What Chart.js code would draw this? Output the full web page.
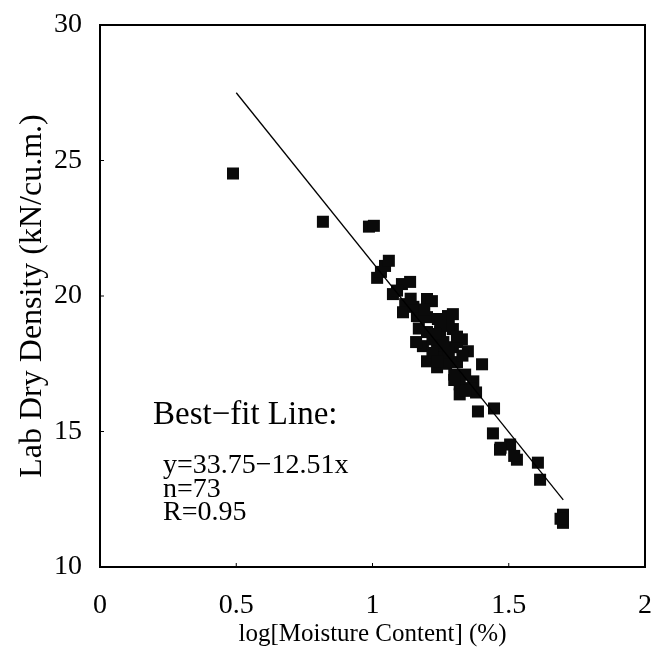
<!DOCTYPE html>
<html>
<head>
<meta charset="utf-8">
<script src="https://cdn.jsdelivr.net/npm/chart.js@4/dist/chart.umd.min.js"></script>
<style>
  html, body { margin: 0; padding: 0; background: #fff; }
  #wrap { width: 656px; height: 649px; position: relative; }
</style>
</head>
<body>
<div id="wrap"><canvas id="densityChart"></canvas></div>
<script>
// log moisture content vs lab dry density
var logMoisture = [
  0.488, 0.818, 0.987, 1.005, 1.017, 1.031, 1.046, 1.060, 1.075, 1.108,
  1.138, 1.120, 1.112, 1.200, 1.218, 1.163, 1.200, 1.240, 1.277, 1.295,
  1.200, 1.248, 1.295, 1.328, 1.185, 1.237, 1.295, 1.350, 1.200, 1.259,
  1.310, 1.402, 1.237, 1.320, 1.370, 1.320, 1.380, 1.387, 1.446, 1.442,
  1.468, 1.505, 1.530, 1.607, 1.615, 1.699, 1.699, 1.690, 1.090, 1.150,
  1.170, 1.220, 1.260, 1.280, 1.310, 1.330, 1.270, 1.220, 1.300, 1.340,
  1.360, 1.340, 1.250, 1.190, 1.140, 1.280, 1.300, 1.230, 1.520, 1.470,
  1.240, 1.160, 1.310
];
var dryDensity = [
  24.52, 22.74, 22.56, 22.59, 20.67, 20.89, 21.11, 21.30, 20.07, 20.44,
  20.52, 19.70, 19.40, 19.89, 19.81, 19.26, 19.22, 19.15, 19.26, 19.33,
  18.67, 18.70, 18.78, 18.40, 18.15, 18.04, 18.11, 17.96, 17.59, 17.74,
  17.56, 17.48, 17.37, 16.74, 16.85, 16.37, 16.44, 15.74, 15.85, 14.93,
  14.33, 14.52, 13.96, 13.85, 13.22, 11.93, 11.63, 11.78, 20.20, 19.60,
  18.80, 18.40, 18.30, 18.90, 18.30, 17.80, 17.50, 17.90, 17.10, 17.10,
  16.60, 16.50, 18.90, 19.50, 19.90, 17.90, 16.90, 18.60, 14.10, 14.40,
  17.60, 18.30, 18.50
];

// best-fit line y = 33.75 - 12.51x, end points
var fitX = [0.5, 1.7];
var fitY = [27.50, 12.48];

var xTicks = [0, 0.5, 1, 1.5, 2];
var yTicks = [10, 15, 20, 25, 30];

var noteLines = ['y=33.75\u221212.51x', 'n=73', 'R=0.95'];

var serif = '"Liberation Serif", "Times New Roman", serif';

var frameAndNotes = {
  id: 'frameAndNotes',
  afterDraw: function(chart) {
    var ctx = chart.ctx;
    var a = chart.chartArea;
    var xs = chart.scales.x, ys = chart.scales.y;
    ctx.save();
    ctx.strokeStyle = '#000';
    ctx.lineWidth = 2;
    ctx.strokeRect(a.left, a.top, a.right - a.left, a.bottom - a.top);
    // small inward ticks
    ctx.lineWidth = 1;
    ctx.beginPath();
    xTicks.forEach(function(v) {
      var px = xs.getPixelForValue(v);
      ctx.moveTo(px, a.bottom);
      ctx.lineTo(px, a.bottom - 4);
    });
    yTicks.forEach(function(v) {
      var py = ys.getPixelForValue(v);
      ctx.moveTo(a.left, py);
      ctx.lineTo(a.left + 4, py);
    });
    ctx.stroke();

    ctx.fillStyle = '#000';
    ctx.textBaseline = 'middle';
    ctx.textAlign = 'left';
    ctx.font = '33px ' + serif;
    ctx.fillText('Best\u2212fit Line:', 153, 415);
    ctx.font = '28px ' + serif;
    noteLines.forEach(function(t, i) {
      ctx.fillText(t, 163, 466 + i * 23.5);
    });
    ctx.restore();
  }
};

var points = logMoisture.map(function(x, i) { return { x: x, y: dryDensity[i] }; });
var fitLine = fitX.map(function(x, i) { return { x: x, y: fitY[i] }; });

new Chart(document.getElementById('densityChart').getContext('2d'), {
  type: 'scatter',
  data: {
    datasets: [
      {
        type: 'line',
        label: 'Best-fit',
        data: fitLine,
        borderColor: '#000',
        borderWidth: 1.3,
        pointRadius: 0,
        fill: false
      },
      {
        label: 'Samples',
        data: points,
        pointStyle: 'rect',
        pointRadius: 8.5,
        backgroundColor: '#0a0a0a',
        borderColor: '#0a0a0a',
        borderWidth: 0
      }
    ]
  },
  options: {
    responsive: true,
    maintainAspectRatio: false,
    animation: false,
    layout: { padding: { top: 25, right: 11, left: 0, bottom: 0 } },
    plugins: {
      legend: { display: false },
      tooltip: { enabled: false }
    },
    scales: {
      x: {
        type: 'linear',
        min: 0,
        max: 2,
        afterFit: function(s) { s.height = 82; s.paddingLeft = 0; s.paddingRight = 0; },
        afterBuildTicks: function(s) { s.ticks = xTicks.map(function(v) { return { value: v }; }); },
        grid: { display: false, drawTicks: false },
        border: { display: false },
        ticks: {
          color: '#000',
          padding: 22,
          maxRotation: 0,
          font: { family: serif, size: 28 },
          callback: function(v) { return String(v); }
        },
        title: {
          display: true,
          text: 'log[Moisture Content] (%)',
          color: '#000',
          padding: { top: 0, bottom: 0 },
          font: { family: serif, size: 25 }
        }
      },
      y: {
        type: 'linear',
        min: 10,
        max: 30,
        afterFit: function(s) { s.width = 100; s.paddingTop = 0; s.paddingBottom = 0; },
        afterBuildTicks: function(s) { s.ticks = yTicks.map(function(v) { return { value: v }; }); },
        grid: { display: false, drawTicks: false },
        border: { display: false },
        ticks: {
          color: '#000',
          padding: 18,
          font: { family: serif, size: 28 }
        },
        title: {
          display: true,
          text: 'Lab Dry Density (kN/cu.m.)',
          color: '#000',
          padding: { top: 13, bottom: 0 },
          font: { family: serif, size: 32 }
        }
      }
    }
  },
  plugins: [frameAndNotes]
});
</script>
</body>
</html>
